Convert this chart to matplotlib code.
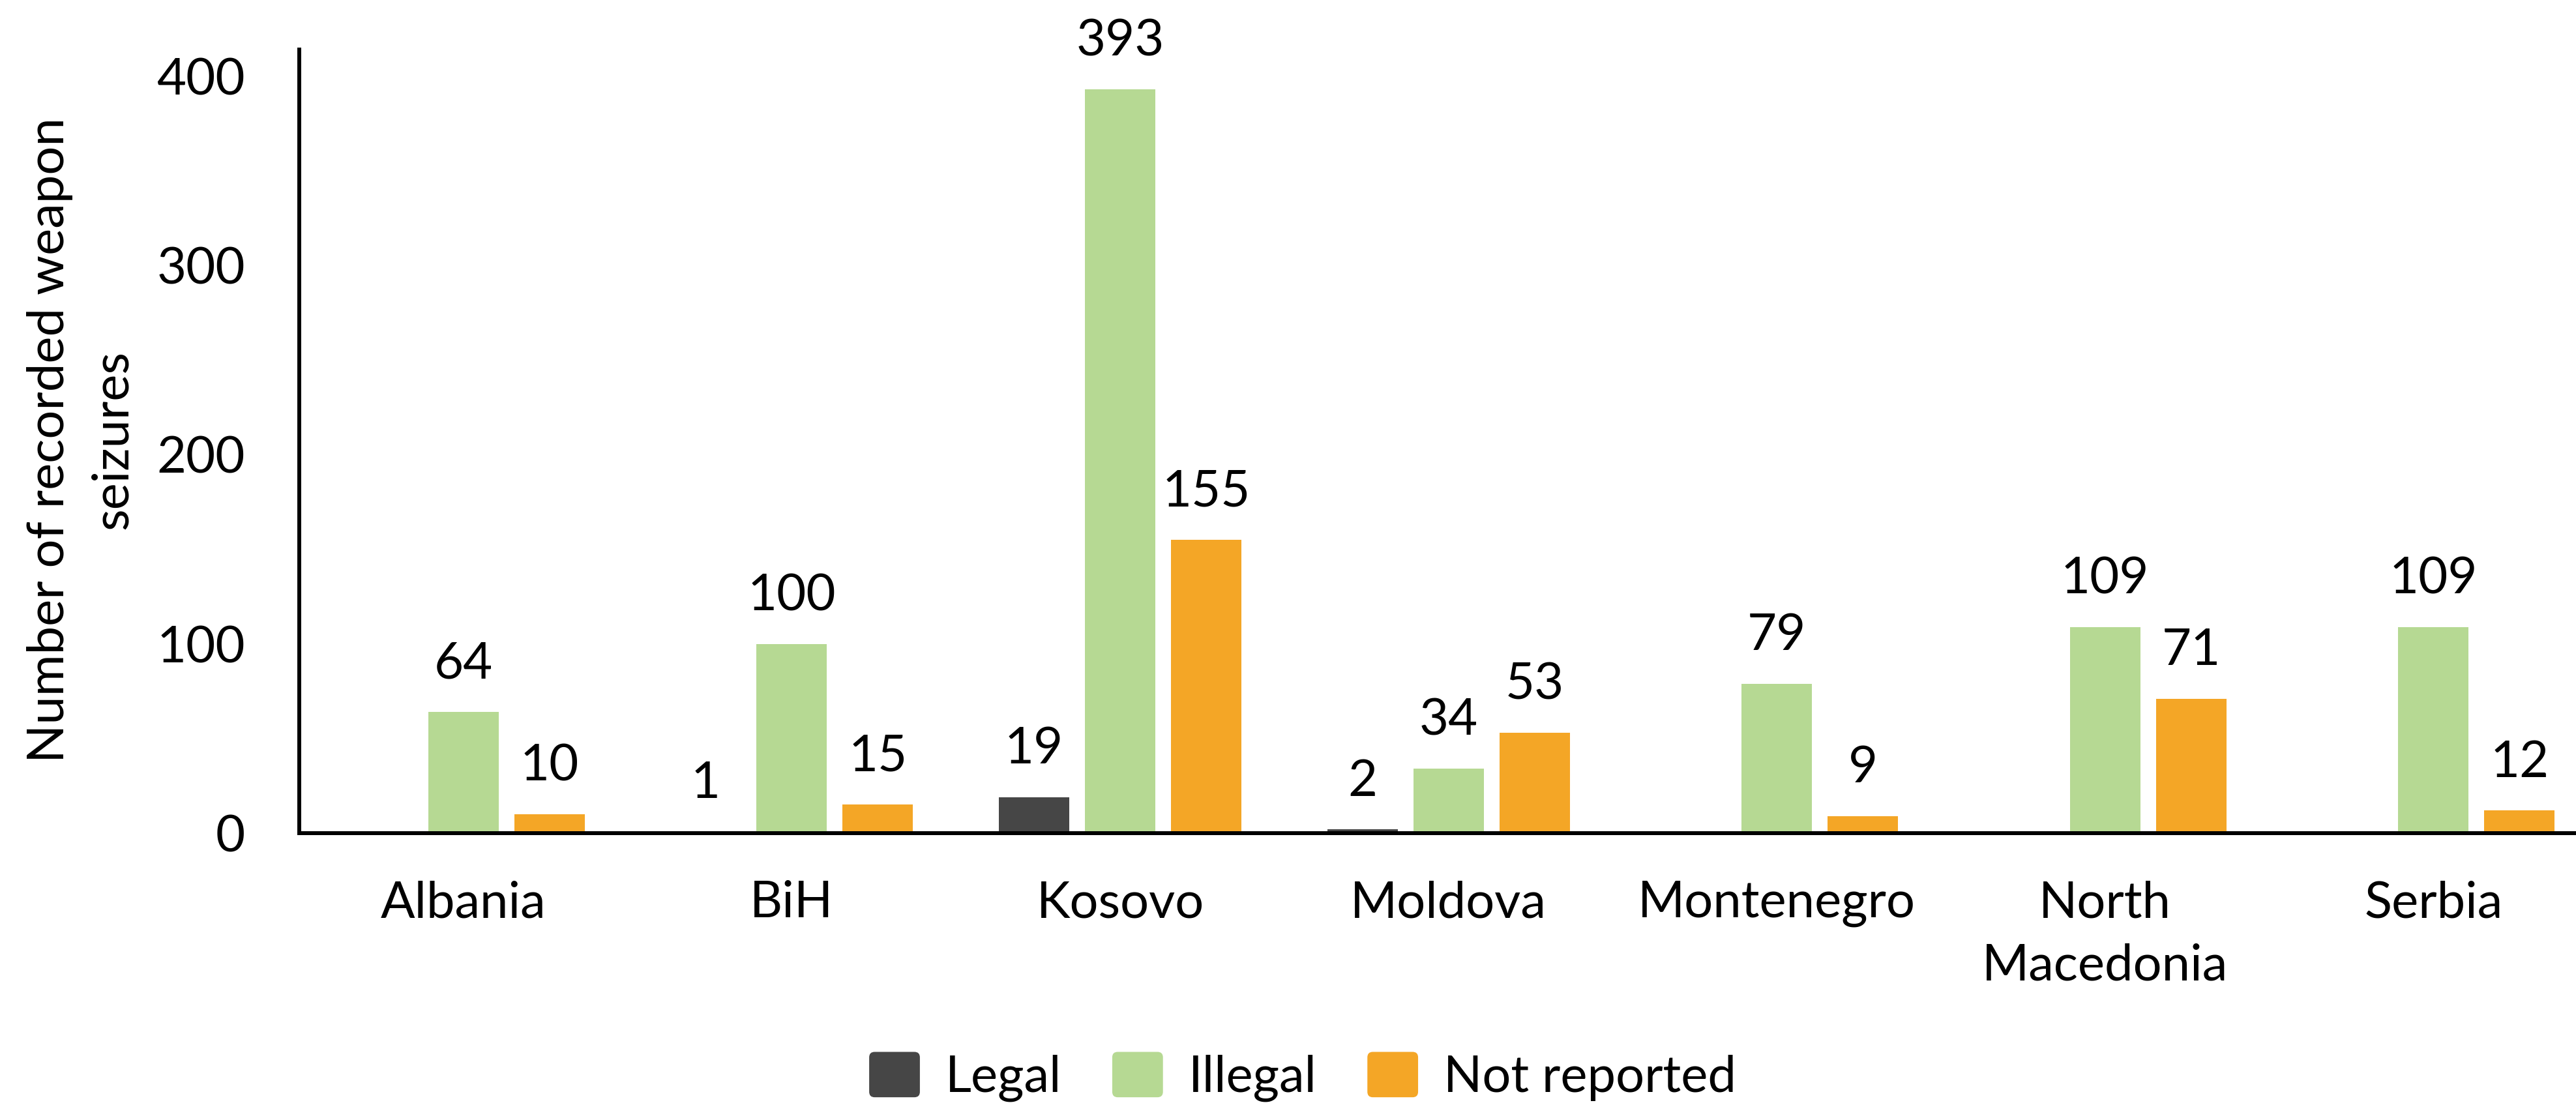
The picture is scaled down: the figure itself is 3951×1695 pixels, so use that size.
import matplotlib
matplotlib.use("Agg")
import matplotlib.pyplot as plt
import numpy as np
from matplotlib.patches import FancyBboxPatch, Patch
from matplotlib.legend_handler import HandlerPatch

plt.rcParams["font.family"] = ["Lato", "DejaVu Sans"]

# Data
countries = ["Albania", "BiH", "Kosovo", "Moldova", "Montenegro", "North\nMacedonia", "Serbia"]
legal = [0, 1, 19, 2, 0, 0, 0]
illegal = [64, 100, 393, 34, 79, 109, 109]
not_reported = [10, 15, 155, 53, 9, 71, 12]

series = [
    ("Legal", legal, "#464646"),
    ("Illegal", illegal, "#b6d993"),
    ("Not reported", not_reported, "#f4a626"),
]

fs = 56

fig = plt.figure(figsize=(39.51, 16.95), dpi=100)
# axis runs past the right edge of the figure
ax = fig.add_axes([0.1162, 0.2460, 0.8922, 0.7091])

x = np.arange(len(countries))
width = 0.2145
step = 0.262

for k, (name, vals, color) in enumerate(series):
    bars = ax.bar(x + (k - 1) * step, vals, width, color=color, label=name)
    labels = [str(v) if v > 0 else "" for v in vals]
    ax.bar_label(bars, labels=labels, padding=27, fontsize=fs)

ax.set_xlim(-0.5, len(countries) - 0.5)
ax.set_ylim(0, 414)
ax.set_yticks([0, 100, 200, 300, 400])
ax.set_xticks(x)
ax.set_xticklabels(countries, fontsize=fs, linespacing=1.45)
ax.tick_params(axis="y", labelsize=fs, length=0, pad=60)
ax.tick_params(axis="x", length=0, pad=52)

for side in ["top", "right"]:
    ax.spines[side].set_visible(False)
ax.spines["left"].set_linewidth(4.3)
ax.spines["bottom"].set_linewidth(4.3)

fig.text(0.0316, 0.6018, "Number of recorded weapon\nseizures", rotation=90,
         ha="center", va="center", multialignment="center",
         fontsize=fs, linespacing=1.45)


# rounded legend swatches
class RoundHandler(HandlerPatch):
    def create_artists(self, legend, orig_handle, xdescent, ydescent, width, height, fontsize, trans):
        p = FancyBboxPatch((-xdescent, -ydescent), width, height,
                           boxstyle="round,pad=0,rounding_size=6",
                           facecolor=orig_handle.get_facecolor(), edgecolor="none",
                           transform=trans)
        return [p]


handles = [Patch(facecolor=c, label=n) for n, _, c in series]
fig.legend(handles=handles, loc="center", bbox_to_anchor=(0.5057, 0.0254), ncol=3,
           frameon=False, fontsize=fs, handlelength=1.0, handleheight=1.0,
           handletextpad=0.5, columnspacing=1.0,
           handler_map={Patch: RoundHandler()})

fig.savefig("out.png", dpi=100)
